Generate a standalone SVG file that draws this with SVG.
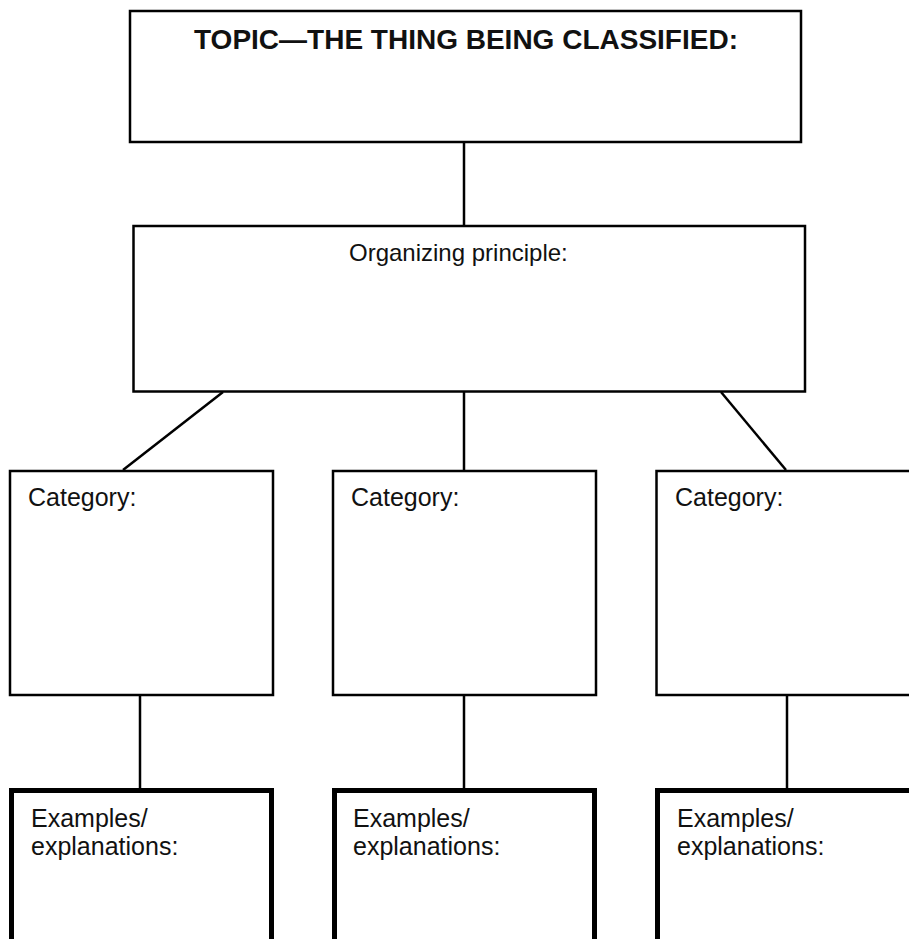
<svg xmlns="http://www.w3.org/2000/svg" width="909" height="939" viewBox="0 0 909 939">
<style>
.box{fill:#fff;stroke:#000;stroke-width:2.5}
.thick{fill:#fff;stroke:#000;stroke-width:5}
.conn line{stroke:#000;stroke-width:2.5}
text{font-family:"Liberation Sans",Arial,sans-serif;fill:#111}
.title{font-size:28px;font-weight:bold}
.lbl{font-size:25px}
</style>
<rect width="909" height="939" fill="#fff"/>
<g id="connectors" class="conn">
<line x1="464" y1="142" x2="464" y2="226"/>
<line x1="223" y1="392" x2="123" y2="470"/>
<line x1="464" y1="392" x2="464" y2="471"/>
<line x1="721" y1="392" x2="786" y2="470"/>
<line x1="140" y1="695" x2="140" y2="789"/>
<line x1="464" y1="695" x2="464" y2="789"/>
<line x1="787" y1="695" x2="787" y2="789"/>
</g>
<g id="topic">
<rect class="box" x="130" y="11" width="671" height="131"/>
<text class="title" x="194" y="49">TOPIC—THE THING BEING CLASSIFIED:</text>
</g>
<g id="principle">
<rect class="box" x="133.5" y="226" width="671.5" height="165.5"/>
<text class="lbl" x="349" y="261" font-size="24" style="font-size:24px">Organizing principle:</text>
</g>
<g id="category1">
<rect class="box" x="10" y="471" width="263" height="224"/>
<text class="lbl" x="28" y="506">Category:</text>
</g>
<g id="category2">
<rect class="box" x="333" y="471" width="263" height="224"/>
<text class="lbl" x="351" y="506">Category:</text>
</g>
<g id="category3">
<rect class="box" x="656.5" y="471" width="263" height="224"/>
<text class="lbl" x="675" y="506">Category:</text>
</g>
<g id="examples1">
<rect class="thick" x="11.5" y="790.5" width="260" height="160"/>
<text class="lbl" x="31" y="827">Examples/</text>
<text class="lbl" x="31" y="855">explanations:</text>
</g>
<g id="examples2">
<rect class="thick" x="334.5" y="790.5" width="260" height="160"/>
<text class="lbl" x="353" y="827">Examples/</text>
<text class="lbl" x="353" y="855">explanations:</text>
</g>
<g id="examples3">
<rect class="thick" x="657.5" y="790.5" width="270" height="160"/>
<text class="lbl" x="677" y="827">Examples/</text>
<text class="lbl" x="677" y="855">explanations:</text>
</g>
</svg>
